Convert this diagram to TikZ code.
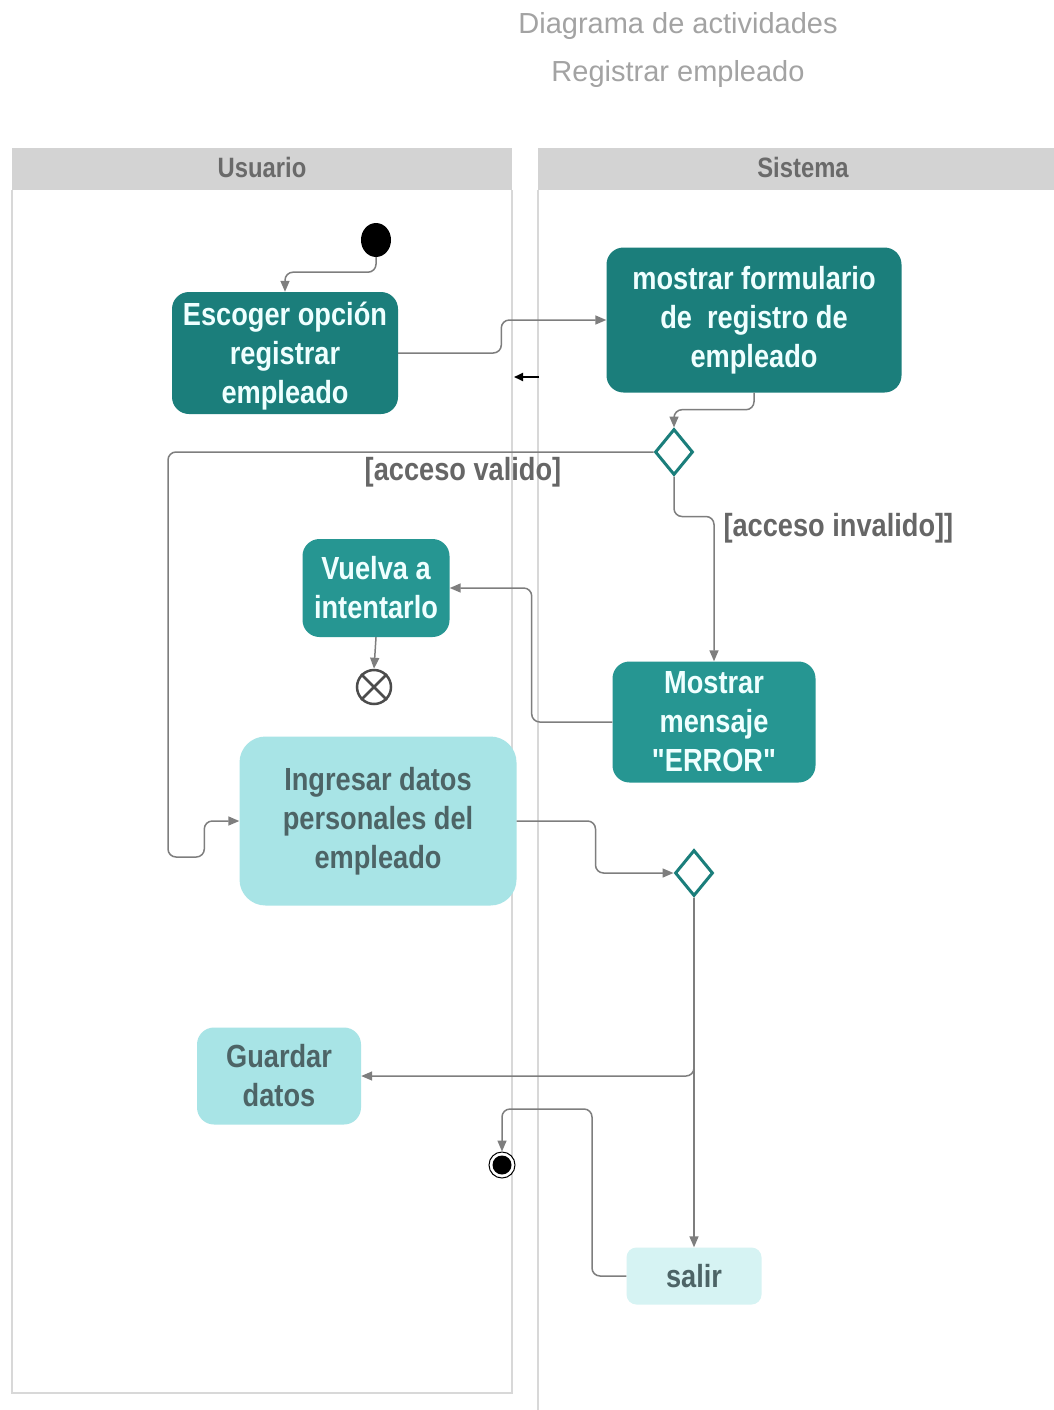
\documentclass[tikz,border=0pt]{standalone}
\usepackage{fontspec}
\setmainfont{Liberation Sans}
\newfontfamily\narrowfont[FakeStretch=0.85]{Liberation Sans}
\usetikzlibrary{shapes.geometric,arrows.meta}

\definecolor{laneHead}{HTML}{D3D3D3}
\definecolor{laneLine}{HTML}{D8D8D8}
\definecolor{laneText}{HTML}{6A6A6A}
\definecolor{titleGray}{HTML}{A3A3A3}
\definecolor{tealDark}{HTML}{1B7E7B}
\definecolor{tealMid}{HTML}{269692}
\definecolor{cyanLight}{HTML}{A8E4E6}
\definecolor{cyanPale}{HTML}{D6F3F3}
\definecolor{textLight}{HTML}{EFFFFF}
\definecolor{slate}{HTML}{4D6466}
\definecolor{lineGray}{HTML}{7E7E7E}
\definecolor{guardGray}{HTML}{666666}

\tikzset{
  act/.style={rounded corners=17pt, inner sep=0pt, align=center,
    font=\narrowfont\bfseries\fontsize{32}{39}\selectfont},
  actdark/.style={act, fill=tealDark, text=textLight},
  actmid/.style={act, fill=tealMid, text=textLight},
  actlight/.style={act, fill=cyanLight, text=slate},
  actpale/.style={act, fill=cyanPale, text=slate},
  flow/.style={draw=lineGray, line width=1.5pt, rounded corners=8pt,
    -{Triangle[length=11pt,width=9pt]}},
  decision/.style={diamond, draw=tealDark, line width=3pt, fill=white,
    minimum width=38pt, minimum height=46pt, inner sep=0pt},
  guard/.style={text=guardGray, font=\narrowfont\bfseries\fontsize{32}{39}\selectfont},
  lanehead/.style={text=laneText, font=\narrowfont\bfseries\fontsize{28}{34}\selectfont},
  titletext/.style={text=titleGray, font=\fontsize{29}{34}\selectfont}
}

\begin{document}
\begin{tikzpicture}[x=1pt,y=-1pt]
\useasboundingbox (0,0) rectangle (1054,1410);
\fill[white] (0,0) rectangle (1054,1410);

% title
\node[titletext] (t1) at (678,26) {Diagrama de actividades};
\node[titletext] (t2) at (678,74) {Registrar empleado};

% swimlanes
\fill[laneHead] (12,148) rectangle (512,190);
\node[lanehead] (hu) at (262,167) {Usuario};
\draw[laneLine, line width=1.5pt] (12,190) -- (12,1393) -- (512,1393) -- (512,190);
\fill[laneHead] (538,148) rectangle (1054,190);
\node[lanehead] (hs) at (803,167) {Sistema};
\draw[laneLine, line width=1.5pt] (538,190) -- (538,1410);

% start node
\node[ellipse, fill=black, minimum width=30pt, minimum height=34pt, inner sep=0pt] (init) at (376,240) {};

% activities
\node[actdark, minimum width=226pt, minimum height=122pt, text depth=0pt] (esc) at (285,353)
  {Escoger opción\\registrar\\empleado};
\node[actdark, minimum width=295pt, minimum height=145pt] (mos) at (754,320)
  {mostrar formulario\\de\ \ registro de\\empleado};
\node[decision] (d1) at (674,452) {};
\node[actmid, minimum width=147pt, minimum height=98pt] (vue) at (376,588)
  {Vuelva a\\intentarlo};
\node[circle, draw=black!70, line width=2.5pt, minimum size=34pt, inner sep=0pt] (ff) at (374,687) {};
\draw[black!70, line width=2.5pt] (ff.north east) -- (ff.south west)
  (ff.north west) -- (ff.south east);
\node[actmid, minimum width=203pt, minimum height=121pt] (err) at (714,722)
  {Mostrar\\mensaje\\"ERROR"};
\node[actlight, rounded corners=26pt, minimum width=277pt, minimum height=169pt] (ing) at (378,821)
  {Ingresar datos\\personales del\\empleado};
\node[decision] (d2) at (694,873) {};
\node[actlight, minimum width=164pt, minimum height=97pt] (gua) at (279,1076)
  {Guardar\\datos};
\node[circle, draw=black, line width=1pt, fill=white, minimum size=26pt, inner sep=0pt] (fin) at (502,1165) {};
\node[circle, fill=black, minimum size=19pt, inner sep=0pt] (finc) at (fin.center) {};
\node[actpale, rounded corners=10pt, minimum width=135pt, minimum height=57pt] (sal) at (694,1276)
  {salir};

% guards
\node[guard] (gv) at (463,472) {[acceso valido]};
\node[guard, anchor=west] (gi) at (720,528) {[acceso invalido]]};

% control flows
\draw[flow] (init.south) -- ++(0,15) -| (esc.north);
\draw[flow] (esc.east) -| ([xshift=-105pt]mos.west) -- (mos.west);
\coordinate (s1) at (539,377);
\coordinate (s2) at (514,377);
\draw[black, line width=2pt, -{Triangle[length=9pt,width=8pt]}] (s1) -- (s2);
\draw[flow] (mos.south) -- ++(0,17) -| (d1.north);
\coordinate (vl) at (168,857);
\draw[flow] (d1.west) -| (vl) -| ([xshift=-35pt]ing.west) -- (ing.west);
\draw[flow] (d1.south) -- ++(0,40) -| (err.north);
\draw[flow] (err.west) -| ([xshift=82pt]vue.east) -- (vue.east);
\draw[flow] (vue.south) -- (ff.north);
\draw[flow] (ing.east) -| ([xshift=-78pt]d2.west) -- (d2.west);
\draw[flow] (d2.south) -- (sal.north);
\draw[flow] (d2.south) |- (gua.east);
\coordinate (j1) at (592,1109);
\draw[flow] (sal.west) -| (j1) -| (fin.north);
\end{tikzpicture}
\end{document}
